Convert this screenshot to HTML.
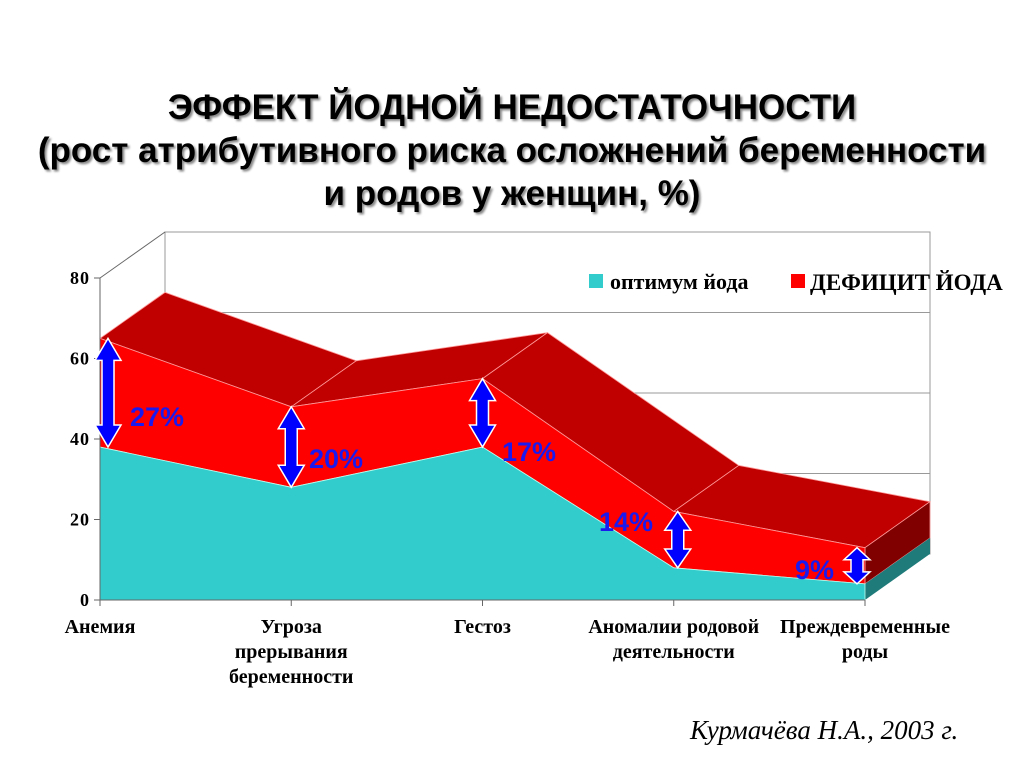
<!DOCTYPE html>
<html><head><meta charset="utf-8"><style>
body{margin:0;width:1024px;height:768px;background:#fff;overflow:hidden;font-family:"Liberation Sans",sans-serif}
#title{position:absolute;left:0;top:86px;width:1024px;text-align:center;font:bold 35px/43px "Liberation Sans",sans-serif;color:#000;text-shadow:2px 2px 2px #888}
#author{position:absolute;left:690px;top:715px;font:italic 27px "Liberation Serif",serif;color:#000}
</style></head><body>
<div id="title">ЭФФЕКТ ЙОДНОЙ НЕДОСТАТОЧНОСТИ<br>(рост атрибутивного риска осложнений беременности<br>и родов у женщин, %)</div>
<svg id="chart" width="1024" height="768" style="position:absolute;left:0;top:0"></svg>
<div id="author">Курмачёва Н.А., 2003 г.</div>
<script>
const categories=[["Анемия"],["Угроза","прерывания","беременности"],["Гестоз"],["Аномалии родовой","деятельности"],["Преждевременные","роды"]];
const optimum=[38,28,38,8,4];
const deficit=[65,48,55,22,13];
const diffLabels=["27%","20%","17%","14%","9%"];
const yTicks=[0,20,40,60,80];
const NS="http://www.w3.org/2000/svg";
const svg=document.getElementById('chart');
const X0=100,X1=865,Y0=600,Y80=278,DX=65,DY=-46;
const xs=i=>X0+i*(X1-X0)/(categories.length-1);
const ys=v=>Y0-(v/80)*(Y0-Y80);
function el(tag,attrs,parent){const e=document.createElementNS(NS,tag);for(const k in attrs)e.setAttribute(k,attrs[k]);(parent||svg).appendChild(e);return e;}
let w=el('rect',{x:X0+DX,y:Y80+DY,width:X1-X0,height:Y0-Y80,fill:'none',stroke:'#999'});

yTicks.forEach(t=>{let g=el('line',{x1:X0+DX,x2:X1+DX,y1:ys(t)+DY,y2:ys(t)+DY,stroke:'#999'});
});
el('line',{x1:X0,y1:Y80,x2:X0+DX,y2:Y80+DY,stroke:'#666'});
for(let i=0;i<deficit.length-1;i++){
 const a=[xs(i),ys(deficit[i])],b=[xs(i+1),ys(deficit[i+1])];
 let p=el('polygon',{points:`${a} ${b} ${b[0]+DX},${b[1]+DY} ${a[0]+DX},${a[1]+DY}`,fill:'#c00000',stroke:'#f99','stroke-width':0.8});
 
}
const n=deficit.length-1;
let sd=el('polygon',{points:`${xs(n)},${ys(deficit[n])} ${xs(n)+DX},${ys(deficit[n])+DY} ${xs(n)+DX},${ys(optimum[n])+DY} ${xs(n)},${ys(optimum[n])}`,fill:'#800000',stroke:'#f99','stroke-width':0.8});

let st=el('polygon',{points:`${xs(n)},${ys(optimum[n])} ${xs(n)+DX},${ys(optimum[n])+DY} ${xs(n)+DX},${ys(optimum[n])+DY+16} ${xs(n)},${Y0}`,fill:'#1f7a7a'});

let rp=deficit.map((v,i)=>`${xs(i)},${ys(v)}`).join(' ')+' '+optimum.map((v,i)=>`${xs(i)},${ys(v)}`).reverse().join(' ');
let r=el('polygon',{points:rp,fill:'#ff0000',stroke:'#f99','stroke-width':0.8});

let tp=optimum.map((v,i)=>`${xs(i)},${ys(v)}`).join(' ')+` ${xs(n)},${Y0} ${X0},${Y0}`;
let t=el('polygon',{points:tp,fill:'#33cccc',stroke:'#bfe','stroke-width':0.8});

el('line',{x1:X0,y1:Y0,x2:X1,y2:Y0,stroke:'#666'});
el('line',{x1:X0,y1:Y0,x2:X0,y2:Y80,stroke:'#666'});
yTicks.forEach(v=>{el('line',{x1:X0-6,x2:X0,y1:ys(v),y2:ys(v),stroke:'#666'});
 let tx=el('text',{x:X0-10,y:ys(v)+6,'text-anchor':'end','font-family':'Liberation Serif,serif','font-weight':'bold','font-size':18,'letter-spacing':1});tx.textContent=v;
 });
categories.forEach((c,i)=>{el('line',{x1:xs(i),x2:xs(i),y1:Y0,y2:Y0+6,stroke:'#666'});
 let tx=el('text',{x:xs(i),y:Y0+33,'text-anchor':'middle','font-family':'Liberation Serif,serif','font-weight':'bold','font-size':20});
 
 c.forEach((s,j)=>{let ts=el('tspan',{x:xs(i),dy:j?25:0},tx);ts.textContent=s;});});
const arrowDx=[8,0,0,4,-8];
const labelPos=[[130,426],[309,468],[502,461],[599,531],[795,579]];
deficit.forEach((v,i)=>{
 const x=xs(i)+arrowDx[i],ya=ys(v),yb=ys(optimum[i]),hw=13,sw=6,hh=Math.min(22,(yb-ya)/3);
 let a=el('polygon',{points:`${x},${ya} ${x+hw},${ya+hh} ${x+sw},${ya+hh} ${x+sw},${yb-hh} ${x+hw},${yb-hh} ${x},${yb} ${x-hw},${yb-hh} ${x-sw},${yb-hh} ${x-sw},${ya+hh} ${x-hw},${ya+hh}`,fill:'#0000ff',stroke:'#fff','stroke-width':1.5});
 
 let tx=el('text',{x:labelPos[i][0],y:labelPos[i][1],'font-family':'Liberation Sans,sans-serif','font-weight':'bold','font-size':27,fill:'#1a1aee'});tx.textContent=diffLabels[i];
 
});
let l1=el('rect',{x:589,y:274,width:14,height:14,fill:'#33cccc'});
let lt1=el('text',{x:610,y:289,'font-family':'Liberation Serif,serif','font-weight':'bold','font-size':22});lt1.textContent='оптимум йода';

let l2=el('rect',{x:791,y:274,width:14,height:14,fill:'#ff0000'});
let lt2=el('text',{x:810,y:290,'font-family':'Liberation Serif,serif','font-weight':'bold','font-size':23});lt2.textContent='ДЕФИЦИТ ЙОДА';

</script>
</body></html>
